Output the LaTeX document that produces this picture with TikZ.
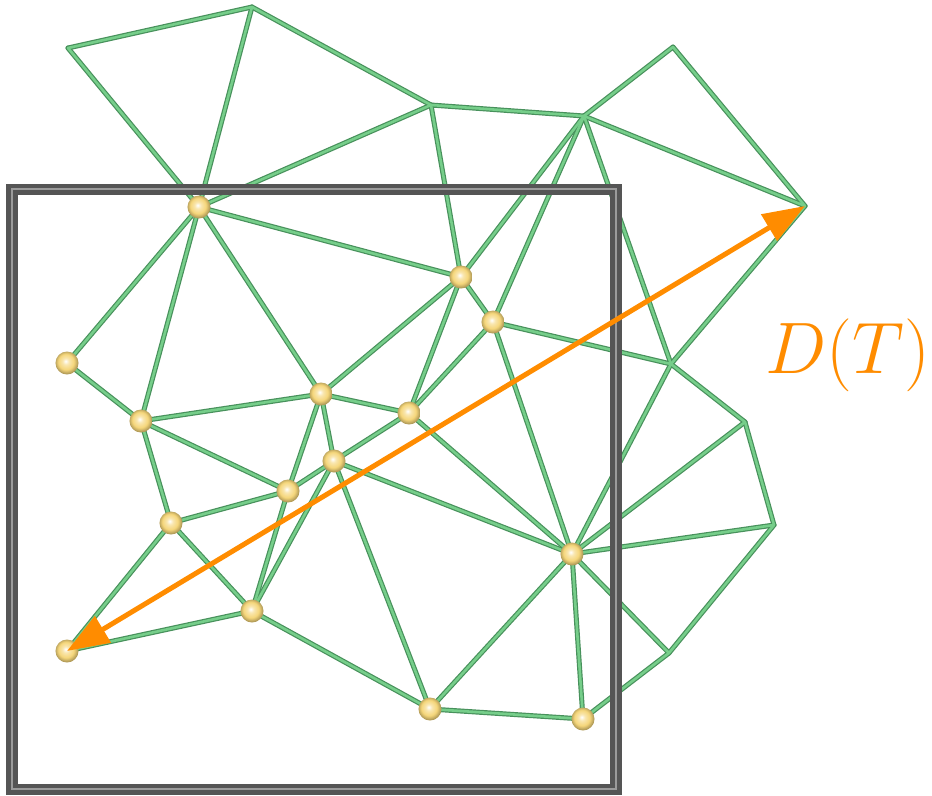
\documentclass[tikz,border=0pt]{standalone}
\usetikzlibrary{arrows.meta}

\definecolor{edgeouter}{RGB}{72, 145, 92}
\definecolor{edgeinner}{RGB}{118, 206, 138}
\definecolor{framedark}{RGB}{85, 85, 85}
\definecolor{framelight}{RGB}{155, 155, 155}
\definecolor{vertexyellow}{RGB}{245, 214, 122}
\definecolor{diamorange}{RGB}{255, 140, 0}

% kugelfoermige Knoten (hell, gelb)
\pgfdeclareradialshading{pearl}{\pgfpoint{-3bp}{4bp}}{color(0bp)=(white); color(7bp)=(vertexyellow!60!white); color(17bp)=(vertexyellow); color(25bp)=(vertexyellow!72!black); color(50bp)=(vertexyellow!72!black)}

\begin{document}
\begin{tikzpicture}[x=0.01cm, y=-0.01cm, % Koordinaten in Pixeln, y nach unten
		edgeback/.style={draw=edgeouter, line width=0.05cm, line cap=round, line join=round},
		edgefront/.style={draw=edgeinner, line width=0.026cm, line cap=round, line join=round},
		framethick/.style={draw=framedark, line width=0.11cm},
		framethin/.style={draw=framelight, line width=0.028cm},
		diamarrow/.style={draw=diamorange, line width=0.05cm, {Triangle[length=0.42cm, width=0.3cm]}-{Triangle[length=0.42cm, width=0.3cm]}},
		dlabel/.style={text=diamorange, font=\fontsize{21}{25}\selectfont, inner sep=0pt, anchor=base west}]
		
		\useasboundingbox (0,0) rectangle (932,796);
		
		% Punkte der Triangulierung (aussen ohne Kugel)
		\foreach \n/\x/\y in {a/68/48, b/252/7, c/431/105, e/673/47, f/584/116, g/805/206, h/671/364, i/745/422, j/774/525, k/669/653} {
			\coordinate (\n) at (\x,\y);
		}
		
		% Punkte im Fenster (mit Kugel)
		\foreach \n/\x/\y in {p1/199/207, p2/67/363, p3/461/277, p4/321/394, p5/493/322, p6/141/421, p7/409/413, p8/334/461, p9/288/491, p10/171/523, p11/252/611, p12/67/651, p13/430/709, p14/572/554, p15/583/719} {
			\coordinate (\n) at (\x,\y);
		}
		
		% Kanten
		\def\edgelist{a/b, a/p1, b/p1, b/c, c/p1, c/p3, c/f, f/e, e/g, f/g, f/p3, f/p5, f/h, g/h, p5/h, h/i, h/p14, i/j, i/p14, j/p14, j/k, k/p14, k/p15, p14/p15, p13/p15, p13/p14, p14/p5, p14/p7, p14/p8, p5/p3, p5/p7, p3/p1, p3/p4, p3/p7, p1/p2, p1/p6, p1/p4, p2/p6, p6/p4, p6/p9, p6/p10, p4/p7, p4/p9, p4/p8, p8/p7, p8/p9, p8/p11, p8/p13, p9/p10, p9/p11, p10/p11, p10/p12, p11/p12, p11/p13}
		\foreach \u/\v in \edgelist {
			\draw[edgeback] (\u) -- (\v);
		}
		\foreach \u/\v in \edgelist {
			\draw[edgefront] (\u) -- (\v);
		}
		
		% Fenster (Rahmen)
		\draw[framethick] (12,189) rectangle (616,789);
		\draw[framethin] (12,189) rectangle (616,789);
		
		% Kugeln
		\foreach \n in {p1, p2, p3, p4, p5, p6, p7, p8, p9, p10, p11, p12, p13, p14, p15} {
			\shade[shading=pearl] (\n) circle [radius=0.115cm];
		}
		
		% Durchmesser D(T)
		\draw[diamarrow] (p12) -- (g);
		\node[dlabel] (dt) at (765,373) {$D(T)$};
		
	\end{tikzpicture}
\end{document}
